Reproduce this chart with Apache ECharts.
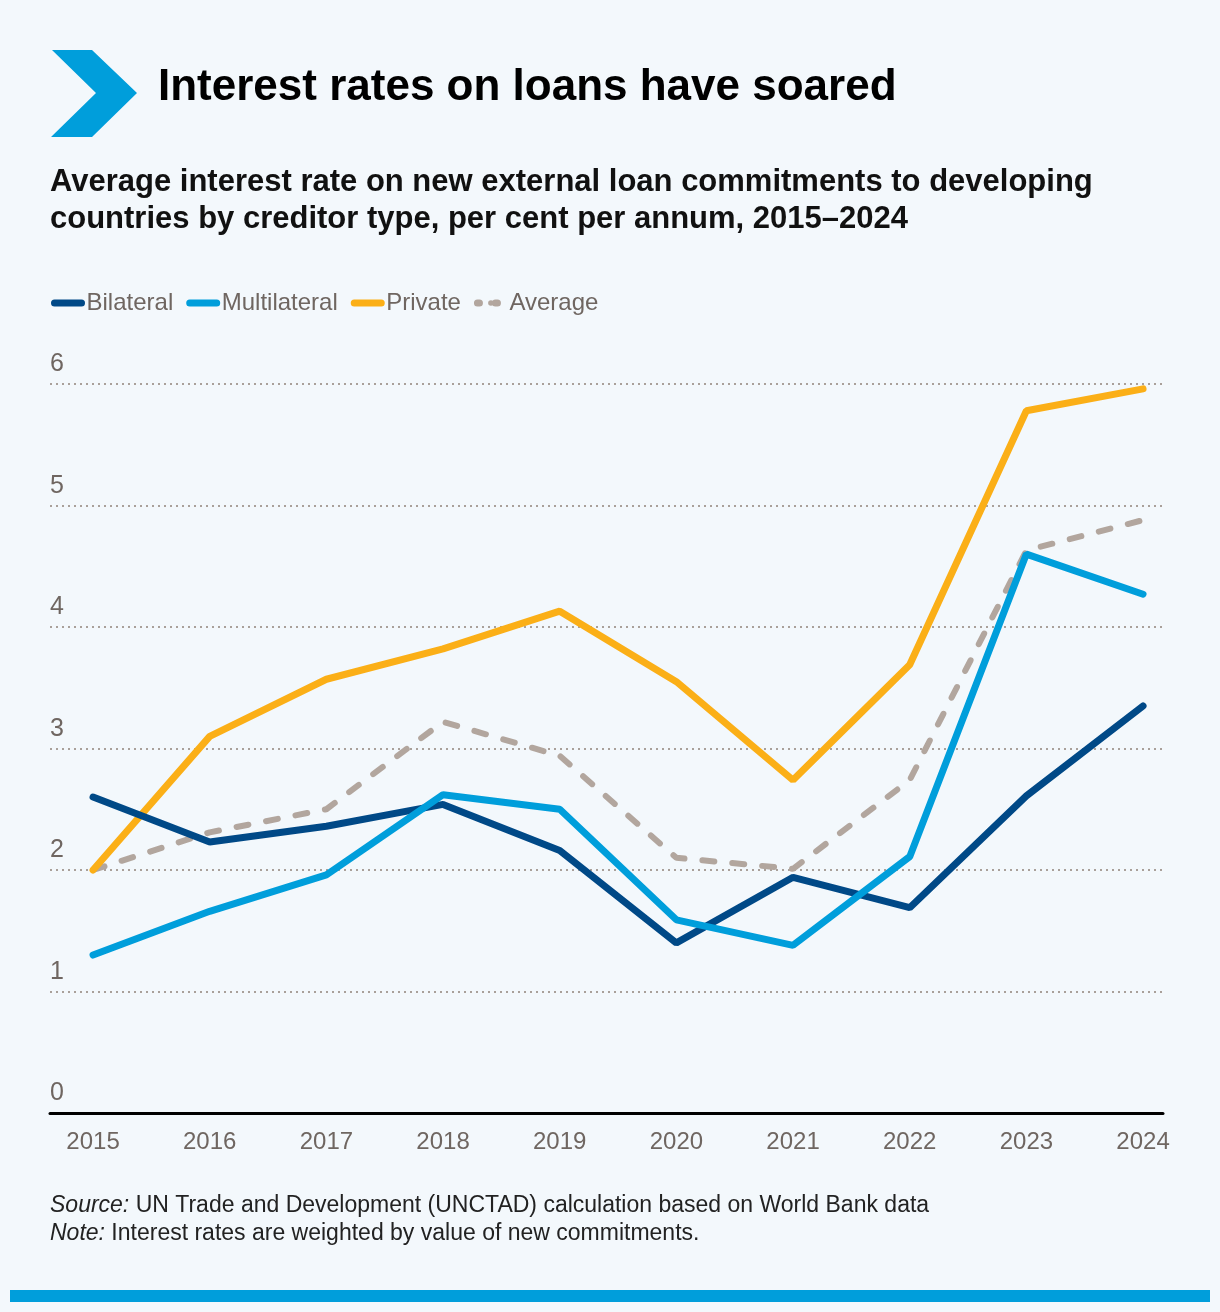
<!DOCTYPE html>
<html>
<head>
<meta charset="utf-8">
<script src="https://cdn.jsdelivr.net/npm/echarts@6/dist/echarts.min.js"></script>
<style>
  html, body { margin: 0; padding: 0; background: #f3f8fc; }
  #main { width: 1220px; height: 1312px; }
</style>
</head>
<body>
<div id="main"></div>
<script>
var years = [2015, 2016, 2017, 2018, 2019, 2020, 2021, 2022, 2023, 2024];
var bilateral = [2.60, 2.23, 2.36, 2.54, 2.16, 1.40, 1.94, 1.69, 2.61, 3.35];
var multilateral = [1.30, 1.66, 1.96, 2.62, 2.50, 1.59, 1.38, 2.11, 4.60, 4.27];
var privateRates = [2.00, 3.10, 3.57, 3.82, 4.13, 3.55, 2.74, 3.69, 5.78, 5.96];
var average = [2.00, 2.31, 2.50, 3.22, 2.94, 2.10, 2.01, 2.74, 4.63, 4.88];
var yTicks = [0, 1, 2, 3, 4, 5, 6];

var textGrey = '#6f6661';
var sans = '"Liberation Sans", Arial, sans-serif';

function pairs(vals) {
    return years.map(function (y, i) { return [y, vals[i]]; });
}

var chartDom = document.getElementById('main');
var myChart = echarts.init(chartDom);
var option;

option = {
    backgroundColor: '#f3f8fc',
    animation: false,
    textStyle: { fontFamily: sans },
    graphic: [
        // chevron
        {
            type: 'polygon',
            shape: { points: [[52, 50], [92, 50], [137, 93], [92, 137], [51, 137], [96, 93]] },
            style: { fill: '#009edb' }
        },
        {
            type: 'text', left: 158, top: 66,
            style: { text: 'Interest rates on loans have soared', fill: '#000', font: 'bold 44px ' + sans }
        },
        {
            type: 'text', left: 50, top: 164,
            style: {
                text: 'Average interest rate on new external loan commitments to developing\ncountries by creditor type, per cent per annum, 2015\u20132024',
                fill: '#111', font: 'bold 31px ' + sans, lineHeight: 37
            }
        },
        {
            type: 'text', left: 50, top: 1192,
            style: {
                text: '{i|Source:} UN Trade and Development (UNCTAD) calculation based on World Bank data\n{i|Note:} Interest rates are weighted by value of new commitments.',
                fill: '#222', font: '23px ' + sans, lineHeight: 28,
                rich: { i: { fontStyle: 'italic', fontSize: 23, fontFamily: sans, fill: '#222' } }
            }
        },
        {
            type: 'rect',
            shape: { x: 10, y: 1290, width: 1200, height: 12 },
            style: { fill: '#009edb' }
        }
    ],
    legend: {
        left: 46,
        top: 286,
        itemWidth: 27,
        itemHeight: 7,
        itemGap: 13,
        textStyle: { color: textGrey, fontSize: 24 },
        lineStyle: { width: 7, cap: 'round' },
        data: [
            'Bilateral', 'Multilateral', 'Private',
            { name: 'Average', lineStyle: { type: [2, 16], width: 7, cap: 'round' } }
        ]
    },
    grid: { left: 50, right: 57, top: 384, bottom: 199 },
    xAxis: {
        type: 'value',
        min: 2014.631,
        max: 2024.171,
        axisLine: { show: true, lineStyle: { color: '#000', width: 3 } },
        axisTick: { show: false },
        splitLine: { show: false },
        axisLabel: {
            customValues: years,
            formatter: function (v) { return String(v); },
            color: textGrey, fontSize: 24, margin: 17
        }
    },
    yAxis: {
        type: 'value',
        min: 0,
        max: 6,
        interval: 1,
        axisLine: { show: false },
        axisTick: { show: false },
        axisLabel: {
            inside: true, margin: 0, align: 'left', verticalAlign: 'bottom',
            padding: [0, 0, 7, 0],
            customValues: yTicks,
            color: textGrey, fontSize: 25
        },
        splitLine: { lineStyle: { color: '#a9a09a', width: 2, type: [2, 4] } }
    },
    series: [
        {
            name: 'Bilateral', type: 'line', symbol: 'none', data: pairs(bilateral),
            lineStyle: { color: '#004987', width: 7, cap: 'round' }, itemStyle: { color: '#004987' }, z: 3
        },
        {
            name: 'Multilateral', type: 'line', symbol: 'none', data: pairs(multilateral),
            lineStyle: { color: '#009edb', width: 7, cap: 'round' }, itemStyle: { color: '#009edb' }, z: 4
        },
        {
            name: 'Private', type: 'line', symbol: 'none', data: pairs(privateRates),
            lineStyle: { color: '#fbaf17', width: 7, cap: 'round' }, itemStyle: { color: '#fbaf17' }, z: 2
        },
        {
            name: 'Average', type: 'line', symbol: 'none', data: pairs(average),
            lineStyle: { color: '#b2a69e', width: 6, type: [12, 18], cap: 'round' }, itemStyle: { color: '#b2a69e' }, z: 1
        }
    ]
};

option && myChart.setOption(option);
</script>
</body>
</html>
